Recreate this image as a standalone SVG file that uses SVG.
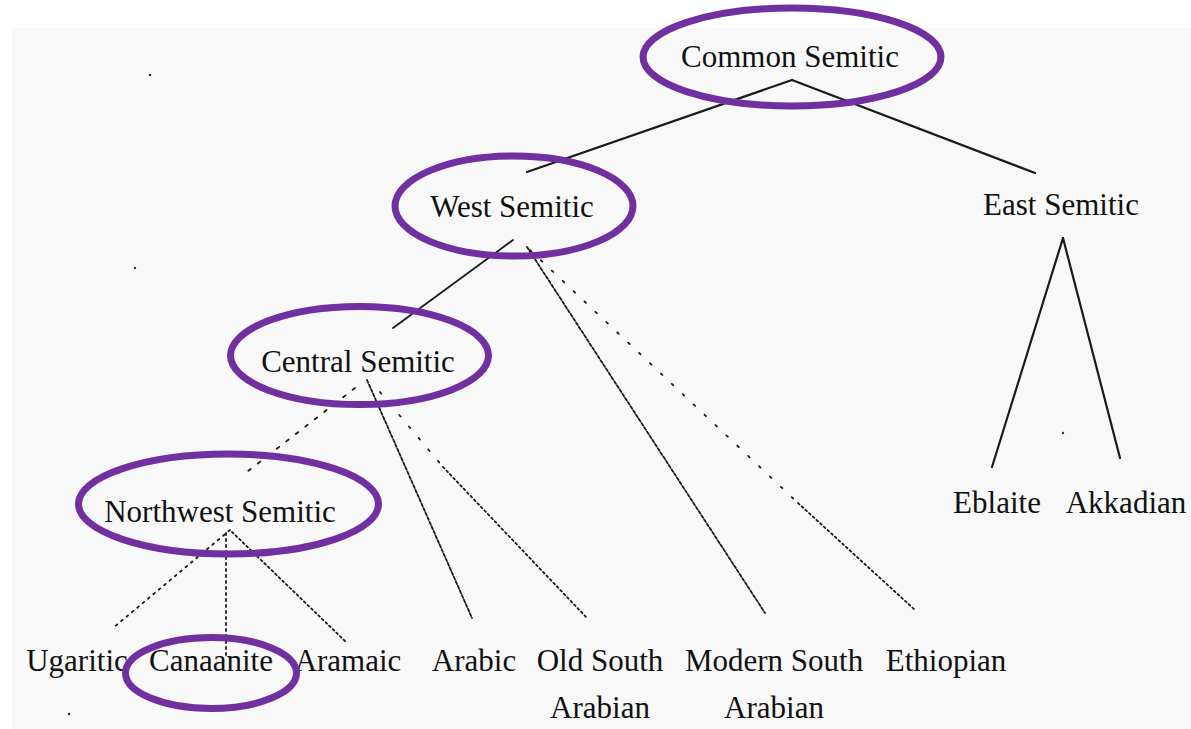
<svg xmlns="http://www.w3.org/2000/svg" width="1191" height="729" viewBox="0 0 1191 729">
<style>
.lbl{font-family:"Liberation Serif","Times New Roman",serif;font-size:31px;fill:#111;text-anchor:middle}
.ring{fill:none;stroke:#7030a0;stroke-width:7}
.ln{fill:none;stroke:#1a1a1a;stroke-linecap:round}
.solid{stroke-width:2.2}
.dot{stroke-width:1.8;stroke-dasharray:2 3}
.sparse{stroke-width:1.8;stroke-dasharray:2 13}
.speck{fill:#333}
</style>
<rect x="0" y="0" width="1191" height="729" fill="#ffffff"/>
<rect x="12" y="28" width="1179" height="701" fill="#f8f8f8"/>
<g id="specks">
<circle class="speck" cx="150" cy="75" r="1.3"/>
<circle class="speck" cx="135" cy="268" r="1.2"/>
<circle class="speck" cx="69" cy="714" r="1.3"/>
<circle class="speck" cx="1063" cy="433" r="1.2"/>
</g>
<g id="connectors">
<path class="ln solid" d="M792,80 L527,172"/>
<path class="ln solid" d="M792,80 L1035,173"/>
<path class="ln solid" d="M1063,238 L992,467"/>
<path class="ln solid" d="M1063,238 L1120,458"/>
<path class="ln solid" style="stroke-width:1.8" d="M513,240 L393,328"/>
<path class="ln dot" style="stroke-dasharray:3 2" d="M527,247 L765,613"/>
<path class="ln sparse" d="M530,250 L798,503"/>
<path class="ln dot" d="M798,503 L915,610"/>
<path class="ln dot" style="stroke-dasharray:3 2" d="M367,380 L472,618"/>
<path class="ln sparse" d="M380,392 L443,467"/>
<path class="ln dot" d="M443,467 L587,618"/>
<path class="ln sparse" style="stroke-dasharray:3 9" d="M355,388 L243,475"/>
<path class="ln dot" style="stroke-dasharray:2 5" d="M230,530 L113,628"/>
<path class="ln dot" style="stroke-dasharray:2 4" d="M226,533 L226,655"/>
<path class="ln dot" d="M232,532 L346,642"/>
</g>
<g id="common-semitic">
<text class="lbl" x="790" y="67">Common Semitic</text>
<ellipse class="ring" cx="792" cy="57" rx="149" ry="49"/>
</g>
<g id="west-semitic">
<text class="lbl" x="512" y="217">West Semitic</text>
<ellipse class="ring" cx="514" cy="206" rx="119" ry="50"/>
</g>
<g id="east-semitic">
<text class="lbl" x="1061" y="215">East Semitic</text>
</g>
<g id="central-semitic">
<text class="lbl" x="358" y="372">Central Semitic</text>
<ellipse class="ring" cx="359.5" cy="355.5" rx="129" ry="49"/>
</g>
<g id="northwest-semitic">
<text class="lbl" x="220" y="522">Northwest Semitic</text>
<ellipse class="ring" cx="228.5" cy="504" rx="150" ry="50"/>
</g>
<g id="eblaite"><text class="lbl" x="997" y="513">Eblaite</text></g>
<g id="akkadian"><text class="lbl" x="1126" y="513">Akkadian</text></g>
<g id="ugaritic"><text class="lbl" x="77" y="671">Ugaritic</text></g>
<g id="aramaic"><text class="lbl" x="348" y="671">Aramaic</text></g>
<g id="canaanite">
<text class="lbl" x="211" y="671">Canaanite</text>
<ellipse class="ring" cx="211" cy="673" rx="85.5" ry="35.5"/>
</g>
<g id="arabic"><text class="lbl" x="474" y="671">Arabic</text></g>
<g id="old-south-arabian">
<text class="lbl" x="600" y="671">Old South</text>
<text class="lbl" x="600" y="718">Arabian</text>
</g>
<g id="modern-south-arabian">
<text class="lbl" x="774" y="671">Modern South</text>
<text class="lbl" x="774" y="718">Arabian</text>
</g>
<g id="ethiopian"><text class="lbl" x="946" y="671">Ethiopian</text></g>
</svg>
